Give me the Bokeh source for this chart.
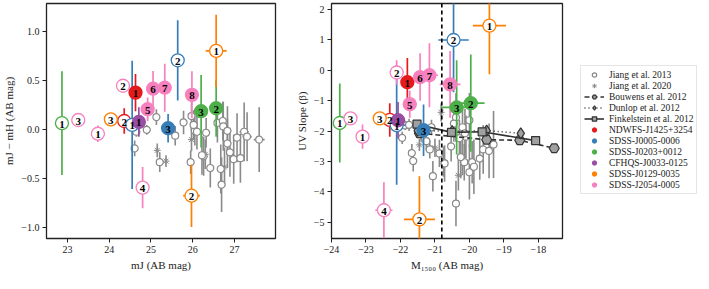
from bokeh.plotting import figure
from bokeh.models import (ColumnDataSource, FixedTicker, CustomJSTickFormatter,
                          Span, Legend, LegendItem)
from bokeh.layouts import row
from bokeh.embed import file_html
from bokeh.resources import INLINE
from bokeh.core.properties import value

FONT = "Liberation Serif"

QSO_NAMES = ["NDWFS-J1425+3254", "SDSS-J0005-0006", "SDSS-J0203+0012",
             "CFHQS-J0033-0125", "SDSS-J0129-0035", "SDSS-J2054-0005"]
QSO_COLORS = ["#e41a1c", "#377eb8", "#4daf4a", "#984ea3", "#ff7f00", "#f781bf"]

# ---- quasar-field galaxies (shared identity) ----
Q_IDX = [0, 0, 1, 1, 1, 2, 2, 2, 3, 4, 4, 4, 5, 5, 5, 5, 5, 5, 5, 5]
Q_NUM = ["1", "2", "1", "2", "3", "1", "2", "3", "1", "1", "2", "3",
         "1", "2", "3", "4", "5", "6", "7", "8"]
Q_FILLED = [1, 0, 0, 0, 1, 0, 1, 1, 1, 0, 0, 0, 0, 0, 0, 0, 1, 1, 1, 1]

# left panel: m_J and m_J - m_H
L_MJ = [24.63, 24.36, 24.55, 25.64, 25.41, 22.87, 26.56, 26.20, 24.71,
        26.56, 25.97, 24.04, 23.73, 24.33, 23.26, 24.80, 24.92, 25.05, 25.33, 25.98]
L_MJ_ERR = [0.0, 0.0, 0.0, 0.0, 0.0, 0.0, 0.0, 0.0, 0.0,
            0.25, 0.20, 0.0, 0.0, 0.0, 0.0, 0.0, 0.0, 0.0, 0.0, 0.0]
L_COL = [0.38, 0.09, 0.05, 0.71, 0.016, 0.068, 0.22, 0.19, 0.08,
         0.806, -0.673, 0.107, -0.04, 0.45, 0.10, -0.59, 0.21, 0.42, 0.43, 0.357]
L_COL_ERR = [0.19, 0.13, 0.655, 0.41, 0.145, 0.53, 0.29, 0.37, 0.15,
             0.37, 0.32, 0.03, 0.085, 0.05, 0.03, 0.21, 0.12, 0.18, 0.245, 0.24]

# right panel: M1500 and beta
R_M = [-21.80, -22.31, -22.11, -20.46, -21.33, -23.76, -19.96, -20.37, -22.07,
       -19.42, -21.45, -22.60, -23.10, -22.11, -23.45, -22.48, -21.73, -21.43, -21.16, -20.56]
R_M_ERR = [0.10, 0.10, 0.25, 0.44, 0.10, 0.05, 0.40, 0.45, 0.10,
           0.48, 0.45, 0.15, 0.05, 0.05, 0.05, 0.25, 0.20, 0.15, 0.25, 0.30]
R_B = [-0.39, -1.63, -1.80, 1.00, -1.97, -1.73, -1.08, -1.22, -1.64,
       1.47, -4.90, -1.58, -2.18, -0.07, -1.58, -4.60, -1.11, -0.22, -0.16, -0.46]
R_B_ERR = [0.80, 0.55, 1.96, 1.72, 0.85, 1.30, 1.60, 1.55, 0.60,
           1.60, 1.42, 0.10, 0.40, 0.40, 0.10, 0.92, 0.45, 0.78, 1.05, 1.10]

# ---- Jiang et al. 2013 (left) ----
J13_MJ = [25.13, 24.90, 24.61, 24.65, 25.21, 25.58, 25.78, 25.97, 26.05, 25.95,
          26.26, 26.42, 26.32, 26.59, 26.72, 26.73, 26.83, 26.83, 26.89, 26.67,
          26.69, 26.98, 27.14, 27.06, 27.23, 27.30, 27.59, 26.02, 26.10, 26.22]
J13_MJ_ERR = [0.04, 0.04, 0.04, 0.04, 0.05, 0.05, 0.05, 0.06, 0.06, 0.06,
              0.07, 0.07, 0.07, 0.08, 0.08, 0.08, 0.09, 0.09, 0.09, 0.08,
              0.08, 0.10, 0.10, 0.10, 0.11, 0.11, 0.13, 0.06, 0.06, 0.07]
J13_COL = [0.13, 0.00, -0.19, -0.02, -0.33, -0.06, 0.075, 0.14, -0.01, -0.33,
           -0.27, -0.39, -0.03, 0.07, 0.09, 0.035, -0.01, -0.14, -0.23, -0.40,
           -0.56, -0.30, -0.29, -0.08, -0.02, -0.07, -0.10, 0.05, -0.02, -0.26]
J13_COL_ERR = [0.08, 0.05, 0.08, 0.05, 0.10, 0.10, 0.12, 0.15, 0.15, 0.12,
               0.20, 0.20, 0.15, 0.20, 0.20, 0.25, 0.25, 0.25, 0.25, 0.25,
               0.28, 0.25, 0.25, 0.25, 0.30, 0.25, 0.33, 0.15, 0.18, 0.20]
# ---- Jiang et al. 2020 (left) ----
J20_MJ = [25.15, 25.36, 25.97, 26.30, 26.76]
J20_COL = [-0.21, -0.32, -0.10, -0.25, -0.38]
J20_COL_ERR = [0.07, 0.06, 0.12, 0.15, 0.20]

# ---- Jiang et al. 2013 (right) ----
J13_M = [-21.86, -21.95, -21.75, -21.25, -21.10, -21.15, -21.67, -21.63, -21.06, -20.87,
         -20.72, -20.53, -20.39, -20.20, -20.10, -20.29, -20.13, -20.00, -19.92, -20.15,
         -20.00, -19.87, -19.70, -19.60, -19.43, -19.30, -20.39, -20.45, -20.25, -21.40]
J13_B = [-1.81, -2.22, -1.79, -2.33, -1.87, -2.60, -2.72, -2.98, -3.48, -2.73,
         -3.06, -2.50, -1.55, -1.87, -2.18, -2.23, -2.07, -1.64, -3.02, -3.02,
         -3.35, -3.17, -2.90, -2.60, -2.65, -2.44, -4.38, -1.75, -2.85, -2.10]
J13_B_ERR = [0.15, 0.20, 0.20, 0.30, 0.25, 0.30, 0.30, 0.35, 0.50, 0.45,
             0.60, 0.50, 0.80, 0.60, 0.70, 0.60, 0.80, 0.90, 0.70, 0.60,
             0.90, 0.90, 0.70, 0.80, 0.90, 1.10, 0.75, 0.60, 0.70, 0.25]
# ---- Jiang et al. 2020 (right) ----
J20_M = [-20.82, -21.45, -21.00, -20.75, -20.20, -20.32]
J20_B = [-1.38, -2.45, -2.55, -3.00, -2.95, -3.45]
J20_B_ERR = [0.30, 0.20, 0.30, 0.50, 0.50, 0.50]

# ---- literature stacks (right) ----
BOUWENS_M = [-21.45, -19.50, -18.54, -17.54]
BOUWENS_B = [-2.07, -2.28, -2.30, -2.56]
DUNLOP_M = [-21.50, -20.50, -19.50, -18.51]
DUNLOP_B = [-1.98, -2.00, -1.98, -2.07]
FINK_M = [-21.52, -20.52, -19.63, -18.08]
FINK_B = [-1.77, -2.04, -2.02, -2.31]

M_CUT = -20.8

L_XTICKS = [23, 24, 25, 26, 27]
L_YTICKS = [-1.0, -0.5, 0.0, 0.5, 1.0]
R_XTICKS = [-24, -23, -22, -21, -20, -19, -18]
R_YTICKS = [-5, -4, -3, -2, -1, 0, 1, 2]

LEGEND_LABELS = ["Jiang et al. 2013", "Jiang et al. 2020", "Bouwens et al. 2012",
                 "Dunlop et al. 2012", "Finkelstein et al. 2012"]

GRAY = "#8a8a8a"
DARK = "#333333"
LITFILL = "#a0a0a0"

J13_STYLE = dict(marker="circle", size=7, fill_color="white", line_color=GRAY, line_width=1.2)
J20_STYLE = dict(marker="asterisk", size=7, line_color=GRAY, line_width=1.0)
BW_LINE = dict(line_color=DARK, line_width=1.6, line_dash="5 3")
BW_MARK = dict(marker="hex", size=10, fill_color=LITFILL, line_color=DARK, line_width=1.2)
DU_LINE = dict(line_color=DARK, line_width=1.6, line_dash="1 3")
DU_MARK = dict(marker="diamond", size=11, fill_color=LITFILL, line_color=DARK, line_width=1.2)
FI_LINE = dict(line_color=DARK, line_width=1.6)
FI_MARK = dict(marker="square", size=8, fill_color=LITFILL, line_color=DARK, line_width=1.2)


def style(p, xticks, yticks, ydec, xlabel, ylabel):
    p.xgrid.visible = False
    p.ygrid.visible = False
    p.outline_line_color = "#222222"
    p.outline_line_width = 1.3
    p.background_fill_color = "white"
    p.border_fill_color = "white"
    for ax in (p.xaxis[0], p.yaxis[0]):
        ax.axis_line_color = None
        ax.major_tick_line_color = "#222222"
        ax.major_tick_line_width = 1
        ax.major_tick_out = 4
        ax.major_tick_in = 0
        ax.minor_tick_line_color = None
        ax.major_label_text_font = FONT
        ax.major_label_text_font_size = "10px"
        ax.major_label_text_color = "#222222"
        ax.axis_label_text_font = FONT
        ax.axis_label_text_font_size = "11px"
        ax.axis_label_text_font_style = "normal"
        ax.axis_label_text_color = "#222222"
        ax.major_label_standoff = 3
        ax.axis_label_standoff = 3
    p.xaxis[0].ticker = FixedTicker(ticks=xticks)
    p.yaxis[0].ticker = FixedTicker(ticks=yticks)
    p.xaxis[0].formatter = CustomJSTickFormatter(
        code="return (tick < 0 ? '\\u2212' : '') + Math.abs(tick).toFixed(0);")
    p.yaxis[0].formatter = CustomJSTickFormatter(
        code="return (tick < -1e-9 ? '\\u2212' : '') + Math.abs(tick).toFixed(%d);" % ydec)
    p.xaxis[0].axis_label = xlabel
    p.yaxis[0].axis_label = ylabel


def jiang_sources(x13, y13, y13err, x13err, x20, y20, y20err):
    s13 = ColumnDataSource(dict(x=x13, y=y13,
                                ylo=[a - b for a, b in zip(y13, y13err)],
                                yhi=[a + b for a, b in zip(y13, y13err)],
                                xlo=[a - b for a, b in zip(x13, x13err)],
                                xhi=[a + b for a, b in zip(x13, x13err)]))
    s20 = ColumnDataSource(dict(x=x20, y=y20,
                                ylo=[a - b for a, b in zip(y20, y20err)],
                                yhi=[a + b for a, b in zip(y20, y20err)]))
    return s13, s20


def add_jiang(p, s13, s20):
    p.segment(x0="x", x1="x", y0="ylo", y1="yhi", source=s20, line_color=GRAY, line_width=1.6)
    p.scatter("x", "y", source=s20, **J20_STYLE)
    p.segment(x0="x", x1="x", y0="ylo", y1="yhi", source=s13, line_color=GRAY, line_width=1.6)
    p.segment(x0="xlo", x1="xhi", y0="y", y1="y", source=s13, line_color=GRAY, line_width=1.6)
    p.scatter("x", "y", source=s13, **J13_STYLE)


def add_qsos(p, x, xerr, y, yerr):
    colors = [QSO_COLORS[i] for i in Q_IDX]
    fills = [c if f else "white" for c, f in zip(colors, Q_FILLED)]
    src = ColumnDataSource(dict(
        x=x, y=y, color=colors, fill=fills, num=Q_NUM,
        ylo=[a - b for a, b in zip(y, yerr)], yhi=[a + b for a, b in zip(y, yerr)],
        xlo=[a - b for a, b in zip(x, xerr)], xhi=[a + b for a, b in zip(x, xerr)]))
    p.segment(x0="x", x1="x", y0="ylo", y1="yhi", source=src, line_color="color", line_width=1.7)
    p.segment(x0="xlo", x1="xhi", y0="y", y1="y", source=src, line_color="color", line_width=1.7)
    p.scatter("x", "y", source=src, marker="circle", size=13, fill_color="fill",
              line_color="color", line_width=1.3)
    p.text("x", "y", text="num", source=src, text_align="center", text_baseline="middle",
           text_font=value(FONT), text_font_style="bold", text_font_size="11px",
           text_color="black", y_offset=1)


# ---------------- left panel ----------------
p1 = figure(width=292, height=273, x_range=(22.5, 27.98), y_range=(-1.11, 1.29),
            output_backend="svg", toolbar_location=None,
            min_border_left=40, min_border_right=17, min_border_top=3, min_border_bottom=30)
style(p1, L_XTICKS, L_YTICKS, 1, "mJ (AB mag)", "mJ \u2212 mH (AB mag)")
ls13, ls20 = jiang_sources(J13_MJ, J13_COL, J13_COL_ERR, J13_MJ_ERR, J20_MJ, J20_COL, J20_COL_ERR)
add_jiang(p1, ls13, ls20)
add_qsos(p1, L_MJ, L_MJ_ERR, L_COL, L_COL_ERR)

# ---------------- right panel ----------------
p2 = figure(width=278, height=273, x_range=(-24.0, -17.3), y_range=(-5.53, 2.2),
            output_backend="svg", toolbar_location=None,
            min_border_left=35, min_border_right=8, min_border_top=3, min_border_bottom=30)
style(p2, R_XTICKS, R_YTICKS, 0, "M\u2081\u2085\u2080\u2080 (AB mag)", "UV Slope (\u03b2)")
rs13, rs20 = jiang_sources(J13_M, J13_B, J13_B_ERR, [0.0] * len(J13_M), J20_M, J20_B, J20_B_ERR)
add_jiang(p2, rs13, rs20)

bw_src = ColumnDataSource(dict(x=BOUWENS_M, y=BOUWENS_B))
du_src = ColumnDataSource(dict(x=DUNLOP_M, y=DUNLOP_B))
fi_src = ColumnDataSource(dict(x=FINK_M, y=FINK_B))
p2.line("x", "y", source=bw_src, **BW_LINE)
p2.scatter("x", "y", source=bw_src, **BW_MARK)
p2.line("x", "y", source=du_src, **DU_LINE)
p2.scatter("x", "y", source=du_src, **DU_MARK)
p2.line("x", "y", source=fi_src, **FI_LINE)
p2.scatter("x", "y", source=fi_src, **FI_MARK)

p2.add_layout(Span(location=M_CUT, dimension="height", line_color="black",
                   line_dash="4 3", line_width=1.6))

add_qsos(p2, R_M, R_M_ERR, R_B, R_B_ERR)

# ---------------- legend panel ----------------
# Legend proxies reuse the right-panel data; this panel's ranges keep them out of view.
p3 = figure(width=128, height=273, x_range=(100, 101), y_range=(100, 101),
            output_backend="svg", toolbar_location=None,
            min_border_left=0, min_border_right=0, min_border_top=3, min_border_bottom=30)
p3.axis.visible = False
p3.xgrid.visible = False
p3.ygrid.visible = False
p3.outline_line_color = None
p3.background_fill_color = "white"
p3.border_fill_color = "white"

r13 = p3.scatter("x", "y", source=rs13, **J13_STYLE)
r20 = p3.scatter("x", "y", source=rs20, **J20_STYLE)
lb = p3.line("x", "y", source=bw_src, **BW_LINE)
sb = p3.scatter("x", "y", source=bw_src, **BW_MARK)
ld = p3.line("x", "y", source=du_src, **DU_LINE)
sd = p3.scatter("x", "y", source=du_src, **DU_MARK)
lf = p3.line("x", "y", source=fi_src, **FI_LINE)
sf = p3.scatter("x", "y", source=fi_src, **FI_MARK)

items = [LegendItem(label=LEGEND_LABELS[0], renderers=[r13]),
         LegendItem(label=LEGEND_LABELS[1], renderers=[r20]),
         LegendItem(label=LEGEND_LABELS[2], renderers=[lb, sb]),
         LegendItem(label=LEGEND_LABELS[3], renderers=[ld, sd]),
         LegendItem(label=LEGEND_LABELS[4], renderers=[lf, sf])]
for k, (name, color) in enumerate(zip(QSO_NAMES, QSO_COLORS)):
    qsrc = ColumnDataSource(dict(x=[m for m, q in zip(R_M, Q_IDX) if q == k],
                                 y=[b for b, q in zip(R_B, Q_IDX) if q == k]))
    rr = p3.scatter("x", "y", source=qsrc, marker="circle", size=11,
                    fill_color=color, line_color=color)
    items.append(LegendItem(label=name, renderers=[rr]))

legend = Legend(items=items, location=(10, 44), label_text_font=FONT,
                label_text_font_size="9.5px", label_text_color="#222222",
                glyph_height=11, glyph_width=20, label_height=11, spacing=0,
                padding=3, label_standoff=5,
                border_line_color="#cccccc", border_line_width=1,
                background_fill_alpha=1.0, margin=0)
p3.add_layout(legend)

layout = row(p1, p2, p3)
open("out.html", "w").write(file_html(layout, INLINE))
